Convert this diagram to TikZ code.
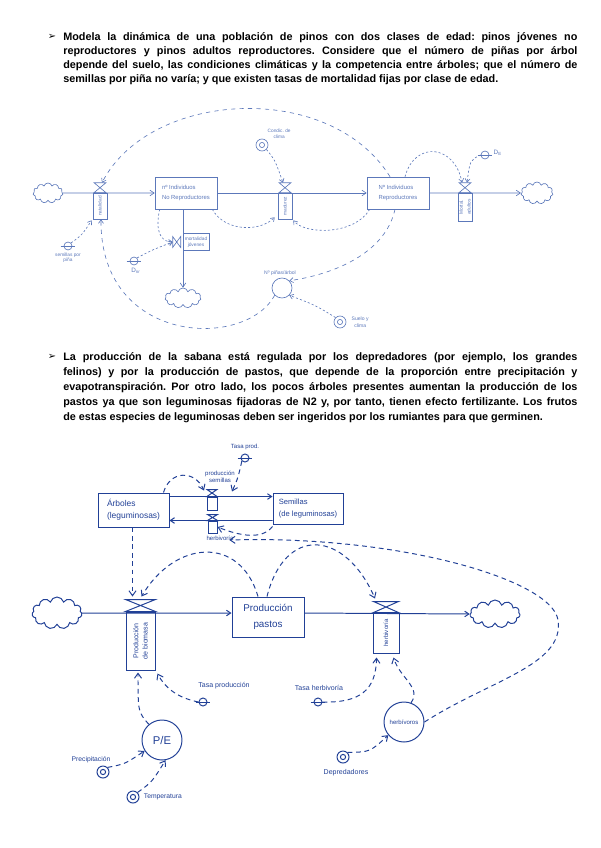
\documentclass[tikz,border=0pt]{standalone}
\usepackage{fontspec}
\setmainfont{Liberation Sans}
\setsansfont{Liberation Sans}
\newfontfamily\flechafont{DejaVu Sans}
\usetikzlibrary{shapes.symbols,arrows.meta,calc}
\newdimen\px \px=0.025cm
\definecolor{tintaA}{rgb}{0.36,0.47,0.73}
\definecolor{tintaB}{rgb}{0.13,0.25,0.59}
\frenchspacing
% valvula: reloj de arena sobre el tubo (#1 nodo, #2 semiancho, #3 alto)
\newcommand{\valvula}[3]{\draw ($(#1.north)+(-#2,0)$) -- ($(#1.north)+(#2,0)$) -- ($(#1.north)+(-#2,-#3)$) -- ($(#1.north)+(#2,-#3)$) -- cycle;}
% constante: circulo cruzado por una raya
\newcommand{\cte}[2]{\node[cte] (#1) at (#2) {}; \draw ($(#1.west)+(-3,0)$) -- ($(#1.east)+(3,0)$);}
\tikzset{
  enunciado/.style={anchor=north west, inner sep=0pt, text width=12.85cm, align=justify},
  vineta/.style={inner sep=0pt, font=\flechafont\fontsize{7}{8}\selectfont},
  nivel/.style={draw, rectangle, inner sep=1pt, align=left},
  tubo/.style={draw, rectangle, inner sep=0pt},
  nube/.style={draw, cloud, cloud puffs=11, cloud ignores aspect, inner sep=0pt},
  conv/.style={draw, circle, inner sep=0pt},
  cte/.style={draw, circle, minimum size=8\px, inner sep=0pt},
  exog/.style={draw, circle, minimum size=12\px, inner sep=0pt, path picture={\draw (path picture bounding box.center) circle (2.6\px);}},
  rotulo/.style={inner sep=1pt, align=center},
  flujo/.style={-{Straight Barb[length=3pt,width=4pt]}},
  enlaceA/.style={dash pattern=on 1.5pt off 1.5pt, -{Straight Barb[length=2.5pt,width=3.5pt]}},
  lazoA/.style={dash pattern=on 3pt off 3pt, -{Straight Barb[length=2.5pt,width=3.5pt]}},
  enlaceB/.style={dash pattern=on 3.4pt off 2.6pt, -{Straight Barb[length=3.5pt,width=5pt]}},
}
\begin{document}
\begin{tikzpicture}[x=0.025cm,y=-0.025cm,line width=.45pt,font=\sffamily]
\useasboundingbox (0,0) rectangle (600,848);

% enunciados
\node[vineta] (vinA) at (52,37) {➢};
\node[enunciado, font=\bfseries\fontsize{7.7}{9.96}\selectfont] (txtA) at (63,32) {Modela la dinámica de una población de pinos con dos clases de edad: pinos jóvenes no\linebreak reproductores y pinos adultos reproductores. Considere que el número de piñas por árbol\linebreak depende del suelo, las condiciones climáticas y la competencia entre árboles; que el número de\linebreak semillas por piña no varía; y que existen tasas de mortalidad fijas por clase de edad.};
\node[vineta] (vinB) at (52,357) {➢};
\node[enunciado, font=\bfseries\fontsize{7.7}{10.67}\selectfont] (txtB) at (63,352) {La producción de la sabana está regulada por los depredadores (por ejemplo, los grandes\linebreak felinos) y por la producción de pastos, que depende de la proporción entre precipitación y\linebreak evapotranspiración. Por otro lado, los pocos árboles presentes aumentan la producción de los\linebreak pastos ya que son leguminosas fijadoras de N2 y, por tanto, tienen efecto fertilizante. Los frutos\linebreak de estas especies de leguminosas deben ser ingeridos por los rumiantes para que germinen.};

% pinos
\begin{scope}[color=tintaA]
\node[nube, minimum width=30\px, minimum height=20\px] (nubeA) at (48,193) {};
\node[nivel, minimum width=62\px, minimum height=32\px, font=\fontsize{4.2}{7.5}\selectfont] (jov) at (186,193) {nº Individuos\\No Reproductores};
\node[nivel, minimum width=62\px, minimum height=32\px, font=\fontsize{4.2}{7.5}\selectfont] (adul) at (398,193) {Nº Individuos\\Reproductores};
\node[nube, minimum width=32\px, minimum height=22\px] (nubeB) at (537,193) {};
\node[nube, minimum width=36\px, minimum height=20\px] (nubeC) at (183,298) {};
\node[tubo, minimum width=14\px, minimum height=26\px, font=\fontsize{3.4}{4}\selectfont] (natal) at (100,206) {\rotatebox{90}{natalidad}};
\node[tubo, minimum width=14\px, minimum height=26\px, font=\fontsize{3.4}{4}\selectfont] (paso) at (285,206) {\rotatebox{90}{madurez}};
\node[tubo, minimum width=14\px, minimum height=28\px, font=\fontsize{3.4}{4}\selectfont] (mort) at (465,207) {\rotatebox{90}{\shortstack{Mortal.\\adultos}}};
\node[tubo, minimum width=26\px, minimum height=17\px, align=center, font=\fontsize{3.4}{4}\selectfont] (mjov) at (196,242) {mortalidad\\jóvenes};
\valvula{natal}{6}{10}
\valvula{paso}{6}{10}
\valvula{mort}{6}{10}
\draw ($(mjov.west)+(-10,-5.5)$) -- ($(mjov.west)+(-10,5.5)$) -- ($(mjov.west)+(-2,-5.5)$) -- ($(mjov.west)+(-2,5.5)$) -- cycle;
\coordinate (vnatal) at ($(natal.north)+(0,-10)$);
\coordinate (vpaso) at ($(paso.north)+(0,-10)$);
\coordinate (vmort) at ($(mort.north)+(0,-10)$);
\coordinate (vmjov) at ($(mjov.west)+(-10,0)$);
\draw[flujo] (nubeA) -- (jov);
\draw[flujo] (jov) -- (adul);
\draw[flujo] (adul) -- (nubeB);
\draw[flujo] ($(jov.south)+(-3,0)$) -- (nubeC.north);
% variables
\node[exog] (clima) at (262,145) {};
\node[rotulo, anchor=south west, font=\fontsize{3.4}{4}\selectfont] (lclima) at (266,140) {Condic. de\\clima};
\cte{de}{485,155}
\node[rotulo, anchor=west, font=\fontsize{4.5}{5}\selectfont] (lde) at (492,153) {D\textsubscript{E}};
\cte{semp}{68,246}
\node[rotulo, anchor=north, font=\fontsize{3.4}{4}\selectfont] (lsemp) at (68,251) {semillas por\\piña};
\cte{dnr}{134,261}
\node[rotulo, anchor=north, font=\fontsize{4.5}{5}\selectfont] (ldnr) at (136,266) {D\textsubscript{nr}};
\node[conv, minimum size=20\px] (npin) at (282,288) {};
\node[rotulo, anchor=south, font=\fontsize{3.6}{4}\selectfont] (lnpin) at (280,277) {Nº piñas/árbol};
\node[exog] (suelo) at (340,322) {};
\node[rotulo, anchor=west, font=\fontsize{3.6}{5}\selectfont] (lsuelo) at (350,322) {Suelo y\\clima};
% enlaces
\draw[enlaceA] (clima.south east) .. controls (275,160) .. ($(vpaso)+(-2,0)$);
\draw[enlaceA] ($(adul.north)+(7,0)$) .. controls (415,140) and (455,145) .. ($(vmort)+(-3,0)$);
\draw[enlaceA] (de.west) .. controls (470,160) .. ($(vmort)+(2,0)$);
\draw[lazoA] ($(adul.north)+(-8,0)$) .. controls (330,80) and (150,90) .. ($(vnatal)+(2,0)$);
\draw[enlaceA] ($(jov.south east)+(-5,0)$) .. controls (225,232) and (260,232) .. ($(paso.south west)+(-3,-2)$);
\draw[enlaceA] ($(adul.south west)+(3,0)$) .. controls (355,235) and (305,235) .. ($(paso.south east)+(1,1)$);
\draw[enlaceA] ($(jov.south west)+(5,0)$) .. controls (155,230) and (160,242) .. (vmjov);
\draw[enlaceA] (semp.north east) .. controls (82,235) .. ($(natal.south west)+(-1,1)$);
\draw[enlaceA] (dnr.north east) .. controls (152,250) .. (vmjov);
\draw[lazoA] ($(adul.south)+(-3,0)$) .. controls (385,255) and (330,275) .. (npin.north east);
\draw[enlaceA] (suelo.north west) .. controls (315,305) .. (npin.south east);
\draw[lazoA] (npin.south west) .. controls (245,350) and (100,345) .. ($(natal.south)+(1,0)$);
\end{scope}

% sabana
\begin{scope}[color=tintaB, line width=.7pt]
\node[nivel, minimum width=71\px, minimum height=34\px, inner sep=3pt, font=\fontsize{6}{8.5}\selectfont] (arb) at (133.5,510) {Árboles\\(leguminosas)};
\node[nivel, minimum width=70\px, minimum height=31\px, inner sep=3pt, font=\fontsize{5.4}{8}\selectfont] (sem) at (308,508.5) {Semillas\\(de leguminosas)};
\node[tubo, minimum width=10\px, minimum height=13\px] (vsem) at (212,503.5) {};
\node[tubo, minimum width=9\px, minimum height=12\px] (herbA) at (212.5,527) {};
\valvula{vsem}{5}{7}
\valvula{herbA}{5}{6}
\coordinate (vsemT) at ($(vsem.north)+(0,-7)$);
\draw[flujo] ($(arb.north east)+(0,4)$) -- ($(sem.north west)+(0,4)$);
\draw[flujo] ($(sem.south west)+(0,-4)$) -- ($(arb.south east)+(0,-7)$);
\node[rotulo, font=\fontsize{4.3}{5.2}\selectfont] (lps) at (220,477) {producción\\semillas};
\node[rotulo, font=\fontsize{4.3}{5}\selectfont] (lhb) at (220,538) {herbivoría};
\cte{tprod}{245,458}
\node[rotulo, anchor=south, font=\fontsize{4.3}{5}\selectfont] (ltprod) at (245,452) {Tasa prod.};
\node[nube, minimum width=50\px, minimum height=32\px] (nubeD) at (57,613) {};
\node[tubo, minimum width=29\px, minimum height=58\px, font=\fontsize{5}{6.5}\selectfont] (biom) at (140.5,641) {\rotatebox{90}{\shortstack{Producción\\de biomasa}}};
\node[nivel, minimum width=72\px, minimum height=40\px, align=center, font=\fontsize{7}{11}\selectfont] (pastos) at (268,617) {Producción\\pastos};
\node[tubo, minimum width=26\px, minimum height=40\px, font=\fontsize{4.3}{5}\selectfont] (herbB) at (386,633) {\rotatebox{90}{herbivoría}};
\node[nube, minimum width=50\px, minimum height=28\px] (nubeE) at (495,614) {};
\valvula{biom}{15}{12}
\valvula{herbB}{12.5}{11}
\coordinate (biomT) at ($(biom.north)+(0,-12)$);
\coordinate (herbBT) at ($(herbB.north)+(0,-11)$);
\draw[flujo] (nubeD.east) -- ($(pastos.west)+(0,-4)$);
\draw[flujo] ($(pastos.east)+(0,-4)$) -- (nubeE.west);
\cte{tprodb}{203,702}
\node[rotulo, font=\fontsize{5}{6}\selectfont] (ltprodb) at (224,686) {Tasa producción};
\cte{therb}{318,702}
\node[rotulo, font=\fontsize{5}{6}\selectfont] (ltherb) at (319,688) {Tasa herbivoría};
\node[conv, minimum size=40\px, font=\fontsize{8}{9}\selectfont] (pe) at (162,740) {P/E};
\node[conv, minimum size=40\px, font=\fontsize{4.3}{5}\selectfont] (herbiv) at (404,722) {herbívoros};
\node[exog] (precip) at (103,772) {};
\node[rotulo, font=\fontsize{4.8}{6}\selectfont] (lprecip) at (91,760) {Precipitación};
\node[exog] (temp) at (133,797) {};
\node[rotulo, anchor=west, font=\fontsize{4.8}{6}\selectfont] (ltemp) at (142,797) {Temperatura};
\node[exog] (depred) at (343,757) {};
\node[rotulo, font=\fontsize{5}{6}\selectfont] (ldepred) at (346,773) {Depredadores};
% enlaces
\draw[enlaceB] (tprod.south west) .. controls (238,478) .. ($(vsemT)+(20,2)$);
\draw[enlaceB] ($(arb.north east)+(-6,0)$) .. controls (170,470) and (195,470) .. ($(vsemT)+(-8,1)$);
\draw[enlaceB] ($(sem.south west)+(0,2)$) .. controls (262,540) and (240,536) .. (herbA.east);
\draw[enlaceB] ($(arb.south)+(-1,0)$) -- ($(biomT)+(-8,-3)$);
\draw[enlaceB] ($(pastos.north)+(-10,0)$) .. controls (240,535) and (175,540) .. ($(biomT)+(1,-3)$);
\draw[enlaceB] ($(pastos.north)+(-1,0)$) .. controls (285,525) and (345,530) .. ($(herbBT)+(-11,-3)$);
\draw[enlaceB] (tprodb.west) .. controls (178,698) and (165,688) .. ($(biom.south east)+(2,3)$);
\draw[enlaceB] (pe.130) .. controls (138,712) .. ($(biom.south)+(-2.5,2)$);
\draw[enlaceB] (precip.north east) .. controls (125,764) .. (pe.212);
\draw[enlaceB] (temp.north east) .. controls (152,782) .. (pe.280);
\draw[enlaceB] (therb.east) .. controls (360,703) and (376,690) .. ($(herbB.south west)+(4,4)$);
\draw[enlaceB] (herbiv.70) .. controls (422,688) and (400,678) .. ($(herbB.south east)+(-6,4)$);
\draw[enlaceB] (depred.north east) .. controls (370,752) .. (herbiv.220);
\draw[enlaceB] (herbiv.east) .. controls (490,680) and (565,665) .. (558,620) .. controls (552,580) and (400,535) .. ($(lhb.east)+(-6,2)$);
\end{scope}
\end{tikzpicture}
\end{document}
